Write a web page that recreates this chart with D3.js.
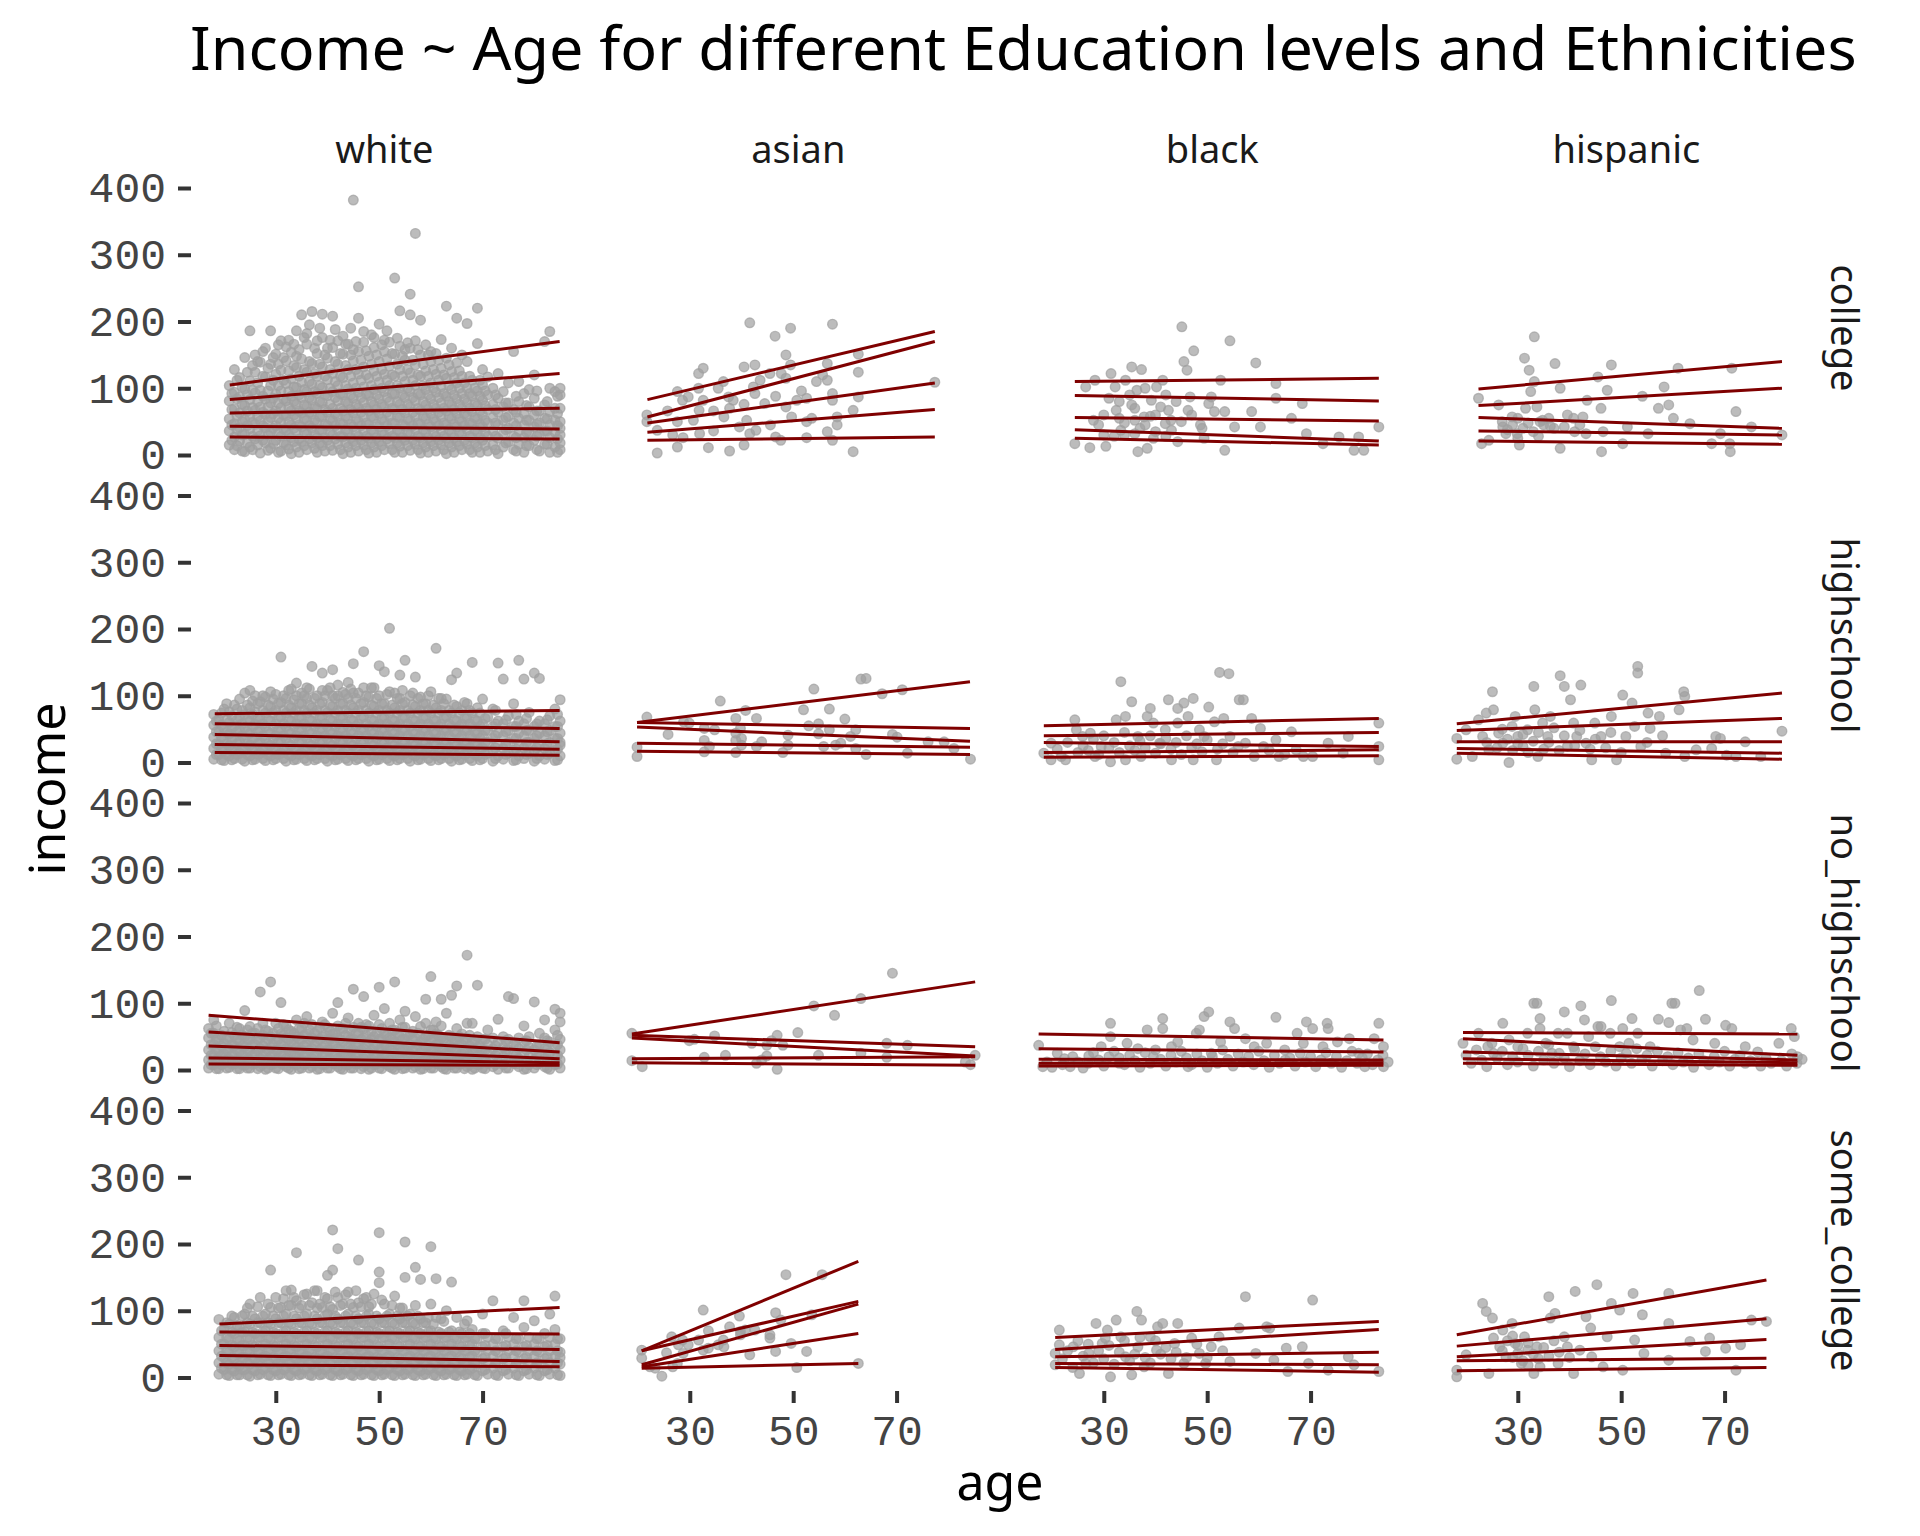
<!DOCTYPE html>
<html>
<head>
<meta charset="utf-8">
<script src="https://d3js.org/d3.v7.min.js"></script>
<style>
  body { margin: 0; background: #fff; }
  .tick text { font-family: "Liberation Mono", "DejaVu Sans Mono", monospace; font-size: 43px; fill: #444; }
  .tick line { stroke: #333; stroke-width: 4; }
</style>
</head>
<body>
<script>
var ethnicities = ["white", "asian", "black", "hispanic"];
var educations = ["college", "highschool", "no_highschool", "some_college"];
var yTickValues = [0, 100, 200, 300, 400];
var xTickValues = [30, 50, 70];

// white panels are dense, one row per age: [age, income, income, ...]
var whiteCollege = [
  [21,15,36,54,81,104],[22,8,27,47,69,94,128],[23,21,41,63,87,116],[24,5,31,53,74,99,146],
  [25,12,39,57,83,111,186],[26,24,46,67,93,124,150],[27,3,29,51,72,97,139],[28,18,41,61,84,117,160],
  [29,10,34,56,78,104,136,186],[30,22,44,66,91,121,151],[31,6,28,49,71,96,127,171],[32,15,37,59,81,107,141,162],
  [33,2,26,45,66,88,114,154],[34,12,35,55,76,101,131,186,148],[35,20,42,63,86,109,144,210],[36,8,31,52,73,95,124,166,182],
  [37,18,40,61,82,106,137,215],[38,4,26,48,69,92,118,152,171],[39,14,36,57,78,101,132,176,211],[40,22,44,64,89,113,145,160],
  [41,7,30,51,70,95,122,161,208],[42,16,38,58,81,104,136,171],[43,2,27,46,66,90,116,151,178],[44,12,34,54,77,99,128,166],
  [45,20,42,63,85,108,141,382,158],[46,6,28,50,71,94,121,155,252,205],[47,15,37,57,79,102,132,169,185],[48,3,25,45,66,89,115,148],
  [49,12,34,55,75,98,126,161,176],[50,20,42,62,84,109,140,196],[51,8,30,50,72,95,121,155,172],[52,17,38,58,80,104,133,169],
  [53,4,26,47,68,91,118,151,265],[54,13,35,56,76,100,128,216,163],[55,22,43,63,86,110,142,158],[56,7,30,51,72,95,123,160,241,210],
  [57,16,38,58,81,104,135,332,171],[58,3,26,46,67,90,118,150,202],[59,12,34,54,75,98,126,165],[60,20,42,62,84,108,140,155],
  [61,6,28,50,70,94,121,152],[62,15,37,57,78,102,130,173],[63,2,25,45,66,88,115,223,145],[64,12,33,54,75,98,125,160],
  [65,20,42,62,84,108,205,138],[66,8,30,50,70,92,118,150],[67,16,38,58,78,100,197,140],[68,4,26,46,65,88,112],
  [69,12,34,54,74,96,220,167],[70,22,42,60,82,105,128],[71,6,28,48,68,90,117],[72,15,36,56,76,100],
  [73,2,25,45,64,85,122],[74,12,32,52,72,95],[75,20,40,58,78,108],[76,8,28,48,68,155],
  [77,16,36,55,80,110],[78,4,26,45,62,92],[79,14,34,52,72,98],[80,22,42,60,85,120],
  [81,6,30,48,66],[82,16,36,55,75,170],[83,4,26,45,65,185,100],[84,12,34,52,95,70],[85,8,30,50,70,100,18,40,90],
  [21.5,22,45,68,92],[22.5,14,38,58,84,112],[23.5,6,30,50,76,102],[24.5,18,44,66,90,124],[25.5,8,28,49,71,97,134],
  [26.5,15,36,58,80,108,140],[27.5,22,44,64,88,118,155],[28.5,7,30,50,72,96,130],[29.5,17,40,62,85,112,146],[30.5,4,33,55,77,104,136,165],
  [31.5,18,39,60,84,112,146],[32.5,9,30,50,72,95,126,172],[33.5,20,40,60,80,102,134,166],[34.5,4,24,45,66,90,118,158],[35.5,14,34,54,75,98,128,176],
  [36.5,24,44,64,86,110,140,195],[37.5,10,30,52,72,95,122,160],[38.5,18,38,58,80,104,136,190],[39.5,6,26,46,68,90,118,150],[40.5,14,34,54,76,100,128,172],
  [41.5,24,44,62,86,110,140,188],[42.5,8,28,48,70,92,118,152],[43.5,18,38,58,80,104,134,166],[44.5,4,26,46,68,90,118,150,190],[45.5,14,34,54,76,100,128,170],
  [46.5,22,44,64,86,112,142],[47.5,8,28,48,70,92,120,156],[48.5,18,38,58,80,104,136,180],[49.5,4,26,46,68,90,118,150],[50.5,14,34,54,76,100,128,165],
  [51.5,24,44,64,86,112,144,186],[52.5,8,28,48,70,92,120,152],[53.5,18,38,58,80,104,136,175],[54.5,4,26,46,68,90,118,148],[55.5,14,34,54,76,100,128,168],
  [56.5,22,44,64,86,112,142],[57.5,8,28,48,70,92,120,158],[58.5,18,38,58,80,104,136],[59.5,4,26,46,68,90,118,150],[60.5,14,34,54,76,100,128],
  [61.5,22,44,64,86,112,142],[62.5,8,28,48,70,92,120],[63.5,18,38,58,80,104,135],[64.5,4,26,46,68,90,116],[65.5,14,34,54,76,100,126],
  [66.5,22,44,62,84,108],[67.5,8,28,48,70,92,118],[68.5,18,38,56,78,100],[69.5,4,26,46,66,88,112],[70.5,14,34,52,74,96],
  [72.5,8,28,48,68,90],[74.5,18,38,56,78],[76.5,6,26,44,64,88],[78.5,14,34,52,74],[80.5,8,28,46,66,96],[82.5,16,36,54,80],[84.5,4,24,44,62,88]
];
var whiteHighschool = [
  [18,5,21,38,56,72],[19,12,27,46,64],[20,3,18,35,51,80],[21,10,25,43,60,76],[22,6,20,38,55,86],
  [23,14,31,48,68,95],[24,2,18,35,52,72,104],[25,10,26,44,62,82,108],[26,5,20,38,57,76,100],[27,14,30,48,66,91],
  [28,3,18,36,54,74,98],[29,10,26,44,62,84,106],[30,6,22,40,58,78,102],[31,14,30,48,68,90,158],[32,2,18,36,54,74,96],
  [33,10,26,44,62,82,110],[34,5,21,40,58,78,119,100],[35,14,30,48,66,88,104],[36,3,18,36,54,74,96,112],[37,10,26,44,62,82,144],
  [38,6,22,40,58,78,100],[39,14,30,48,67,90,134,108],[40,2,18,36,54,75,108],[41,10,26,44,62,84,139,100],[42,5,21,40,58,78,100,116],
  [43,14,30,48,66,88,105],[44,3,18,36,54,74,96,120],[45,10,26,44,62,82,148,104],[46,6,22,40,58,78,104],[47,14,30,48,68,90,166,112],
  [48,2,18,36,54,74,98],[49,10,26,44,62,84,112],[50,5,21,40,58,78,145,100],[51,14,30,48,66,88,136],[52,3,18,36,54,74,201,106],
  [53,10,26,44,62,82,104],[54,6,22,40,58,78,131,96],[55,14,30,48,67,90,153],[56,2,18,36,54,74,100],[57,10,26,44,62,84,128],
  [58,5,21,40,58,78,98],[59,14,30,48,66,88],[60,3,18,36,54,74,106],[61,10,26,44,62,82,171],[62,6,22,40,58,78,96],
  [63,14,30,48,68,95],[64,2,18,36,54,74,124],[65,10,26,44,62,84,134],[66,5,21,40,58,78],[67,14,30,48,66,88],
  [68,3,18,36,54,74,150],[69,10,26,44,62,82],[70,6,22,40,58,95],[71,14,30,48,68],[72,2,18,36,54,80],
  [73,10,26,44,62,149],[74,5,21,40,58,125],[75,14,30,48,70],[76,3,18,36,54,88],[77,10,26,44,62,153],
  [78,6,22,40,58,125],[79,14,30,48,75],[80,2,18,36,54,134],[81,10,26,44,62,126],[82,5,21,40,58],
  [83,14,30,48,70],[84,3,18,36,54,80],[85,10,26,44,62,94,30],
  [18.5,12,28,46,62],[19.5,4,20,38,56,74],[20.5,12,28,45,64,88],[21.5,4,18,34,52,70],[22.5,12,28,46,64,80],
  [23.5,5,22,40,58,78],[24.5,12,28,46,64,86],[25.5,4,18,36,54,72,92],[26.5,12,28,46,66,88],[27.5,6,22,40,58,78,100],
  [28.5,12,28,46,64,86],[29.5,4,20,36,54,74,95],[30.5,12,30,48,66,88],[31.5,6,22,40,58,78,100],[32.5,12,28,46,64,86,108],
  [33.5,4,20,36,54,74,94],[34.5,12,30,48,66,88],[35.5,6,22,40,58,78,100],[36.5,12,28,46,64,86,110],[37.5,4,20,36,54,74,96],
  [38.5,12,30,48,66,88],[39.5,6,22,40,58,78,100],[40.5,12,28,46,64,86,112],[41.5,4,20,36,54,74,96],[42.5,12,30,48,66,88],
  [43.5,6,22,40,58,78,102],[44.5,12,28,46,64,86,110],[45.5,4,20,36,54,74,96],[46.5,12,30,48,66,88],[47.5,6,22,40,58,78,100],
  [48.5,12,28,46,64,86,112],[49.5,4,20,36,54,74,96],[50.5,12,30,48,66,88],[51.5,6,22,40,58,78,102],[52.5,12,28,46,64,86],
  [53.5,4,20,36,54,74,96],[54.5,12,30,48,66,88,108],[55.5,6,22,40,58,78],[56.5,12,28,46,64,86,104],[57.5,4,20,36,54,74,96],
  [58.5,12,30,48,66,88],[59.5,6,22,40,58,78,100],[60.5,12,28,46,64,86],[61.5,4,20,36,54,74,96],[62.5,12,30,48,66,88],
  [63.5,6,22,40,58,78],[64.5,12,28,46,64,86],[65.5,4,20,36,54,74],[66.5,12,30,48,66,90],[67.5,6,22,40,58,78],
  [68.5,12,28,46,64],[69.5,4,20,36,54,74],[70.5,12,30,48,66],[72.5,6,22,40,58,78],[74.5,12,28,46,64],
  [76.5,4,20,36,54,72],[78.5,12,30,48,66],[80.5,6,22,40,58],[82.5,12,28,46,64],[84.5,4,20,36,54,72]
];
var whiteNoHighschool = [
  [17,3,15,30,48,62],[18,8,22,38,55,75],[19,2,14,28,45],[20,10,24,40,58],[21,4,16,32,48,70],
  [22,9,22,36,52],[23,2,14,28,44,62],[24,7,20,35,50,89],[25,3,15,30,46,65],[26,10,24,38,55],
  [27,5,17,32,48,117],[28,1,12,26,42,60],[29,8,20,34,50,132],[30,3,15,30,46,70],[31,10,24,38,54,101],
  [32,5,17,32,48,66],[33,1,12,26,42,58],[34,8,20,34,50,75],[35,3,15,30,46,62],[36,10,24,38,54,80],
  [37,5,17,32,48,68],[38,1,12,26,42,58],[39,8,20,34,50,72],[40,3,15,30,46,64],[41,10,24,38,54,85],
  [42,5,17,32,48,101,66],[43,1,12,26,42,62],[44,8,20,34,50,78],[45,3,15,30,46,121,64],[46,10,24,38,54,70],
  [47,5,17,32,48,110,62],[48,1,12,26,42,66],[49,8,20,34,50,82],[50,3,15,30,46,124,68],[51,10,24,38,54,92],
  [52,5,17,32,48,70],[53,1,12,26,42,132,60],[54,8,20,34,50,75],[55,3,15,30,46,88,64],[56,10,24,38,54],
  [57,5,17,32,48,80],[58,1,12,26,42,65],[59,8,20,34,50,106,70],[60,3,15,30,46,140,60],[61,10,24,38,54,72],
  [62,5,17,32,48,106,66],[63,1,12,26,42,85],[64,8,20,34,50,112],[65,3,15,30,46,126,62],[66,10,24,38,54],
  [67,5,17,32,48,172,70],[68,1,12,26,42,70],[69,8,20,34,50,127],[70,3,15,30,46],[71,10,24,38,60],
  [72,5,17,32,48],[73,1,12,26,42,76],[74,8,20,34,50],[75,3,15,30,46,110],[76,10,24,38,107],
  [77,5,17,32,48],[78,1,12,26,42,66],[79,8,20,34,50],[80,3,15,30,102],[81,10,24,38,55],
  [82,5,17,32,48,75],[83,1,12,26,42],[84,8,20,34,91,60],[85,3,15,30,46,72,85],
  [17.5,8,22,38,55],[18.5,2,15,30,46,66],[19.5,8,22,36,52],[20.5,3,16,30,46],[21.5,9,22,38,56],
  [22.5,2,15,30,46,64],[23.5,8,22,36,52],[24.5,3,16,30,46,60],[25.5,9,22,38,55],[26.5,2,15,30,46,62],
  [27.5,8,22,36,52,70],[28.5,3,16,30,46,58],[29.5,9,22,38,55],[30.5,2,15,30,46,62],[31.5,8,22,36,52,68],
  [32.5,3,16,30,46,60],[33.5,9,22,38,55],[34.5,2,15,30,46,62],[35.5,8,22,36,52,70],[36.5,3,16,30,46,60],
  [37.5,9,22,38,55],[38.5,2,15,30,46,64],[39.5,8,22,36,52,68],[40.5,3,16,30,46,58],[41.5,9,22,38,55],
  [42.5,2,15,30,46,62],[43.5,8,22,36,52,70],[44.5,3,16,30,46,60],[45.5,9,22,38,55],[46.5,2,15,30,46,64],
  [47.5,8,22,36,52,68],[48.5,3,16,30,46,58],[49.5,9,22,38,55],[50.5,2,15,30,46,62],[51.5,8,22,36,52],
  [52.5,3,16,30,46,60],[53.5,9,22,38,55],[54.5,2,15,30,46,64],[55.5,8,22,36,52],[56.5,3,16,30,46,58],
  [57.5,9,22,38,55],[58.5,2,15,30,46],[59.5,8,22,36,52],[60.5,3,16,30,46,60],[61.5,9,22,38,52],
  [62.5,2,15,30,46],[63.5,8,22,36,52],[64.5,3,16,30,46],[65.5,9,22,38,50],[66.5,2,15,30,46],
  [67.5,8,22,36,52],[68.5,3,16,30,44],[69.5,9,22,36],[70.5,2,15,30,46],[72.5,8,22,36],
  [74.5,3,16,30,44],[76.5,9,22,36],[78.5,2,15,30,44],[80.5,8,22,36],[82.5,3,16,30,44],[84.5,9,22,38,52]
];
var whiteSomeCollege = [
  [19,5,22,40,60,87],[20,12,30,50,72],[21,3,20,38,58,80],[22,10,28,46,66,90],[23,4,18,36,55,75],
  [24,12,30,48,68,95],[25,2,20,38,58,80,110],[26,10,28,46,66,88],[27,5,22,40,60,82,120],[28,14,32,50,70,95],
  [29,3,20,38,58,80,161,105],[30,10,28,46,66,88,120],[31,5,22,40,60,82,105],[32,14,32,50,70,95,130],[33,3,20,38,58,80,131,108],
  [34,10,28,46,66,88,187,115],[35,5,22,40,60,82,108],[36,14,32,50,70,95,125],[37,3,20,38,58,80,112],[38,10,28,46,66,88,130,104],
  [39,5,22,40,60,82,105],[40,14,32,50,70,95,153,118],[41,3,20,38,58,80,221,161,102],[42,10,28,46,66,88,193,120],[43,5,22,40,60,82,110],
  [44,14,32,50,70,95,128],[45,3,20,38,58,80,105],[46,10,28,46,66,88,176,112],[47,5,22,40,60,82,118],[48,14,32,50,70,95,106],
  [49,3,20,38,58,80,125],[50,10,28,46,66,88,217,158,142],[51,5,22,40,60,82,110],[52,14,32,50,70,95],[53,3,20,38,58,80,122],
  [54,10,28,46,66,88,104],[55,5,22,40,60,82,203,150],[56,14,32,50,70,95],[57,3,20,38,58,80,165,108],[58,10,28,46,66,88,147],
  [59,5,22,40,60,82],[60,14,32,50,70,196,110],[61,3,20,38,58,148,90],[62,10,28,46,66,88],[63,5,22,40,60,100],
  [64,14,32,50,70,143],[65,3,20,38,58,90],[66,10,28,46,66],[67,5,22,40,60,85],[68,14,32,50,72],
  [69,3,20,38,58],[70,10,28,46,66,95],[71,5,22,40,60],[72,14,32,50,115],[73,3,20,38,58],
  [74,10,28,46,70],[75,5,22,40,60],[76,14,32,50,90],[77,3,20,38,58],[78,10,28,46,115,75],
  [79,5,22,40,60],[80,14,32,50,85],[81,3,20,38,58],[82,10,28,46,66],[83,5,22,40,60,95],
  [84,14,32,50,122,72],[85,3,20,38,58,30],
  [19.5,14,32,50,70],[20.5,4,22,40,60,82],[21.5,12,30,48,68,92],[22.5,4,20,38,58,78],[23.5,12,30,48,68,92],
  [24.5,4,22,40,60,82,104],[25.5,12,30,48,68,92],[26.5,4,22,40,60,82,106],[27.5,12,30,48,68,92],[28.5,4,22,40,60,82,110],
  [29.5,12,30,48,68,92],[30.5,4,22,40,60,82,104],[31.5,12,30,48,68,92,118],[32.5,4,22,40,60,82,108],[33.5,12,30,48,68,92,120],
  [34.5,4,22,40,60,82,104],[35.5,12,30,48,68,92,124],[36.5,4,22,40,60,82,108],[37.5,12,30,48,68,92,130],[38.5,4,22,40,60,82,110],
  [39.5,12,30,48,68,92,120],[40.5,4,22,40,60,82,106],[41.5,12,30,48,68,92,128],[42.5,4,22,40,60,82,108],[43.5,12,30,48,68,92,124],
  [44.5,4,22,40,60,82,110],[45.5,12,30,48,68,92,130],[46.5,4,22,40,60,82,106],[47.5,12,30,48,68,92,120],[48.5,4,22,40,60,82,110],
  [49.5,12,30,48,68,92],[50.5,4,22,40,60,82,116],[51.5,12,30,48,68,92],[52.5,4,22,40,60,82,108],[53.5,12,30,48,68,92],
  [54.5,4,22,40,60,82,104],[55.5,12,30,48,68,92],[56.5,4,22,40,60,82],[57.5,12,30,48,68,92],[58.5,4,22,40,60,82],
  [59.5,12,30,48,68,90],[60.5,4,22,40,60,80],[61.5,12,30,48,68],[62.5,4,22,40,60,84],[63.5,12,30,48,68],
  [64.5,4,22,40,60],[65.5,12,30,48,68],[66.5,4,22,40,60,80],[67.5,12,30,48,66],[68.5,4,22,40,58],
  [70.5,12,30,48,66],[72.5,4,22,40,58],[74.5,12,30,48,66],[76.5,4,22,40,58],[78.5,12,30,48],
  [80.5,4,22,40,58],[82.5,12,30,48],[84.5,4,22,40,58]
];

// the other panels: [age, income]
var asianCollege = [[21.7,60],[21.7,50],[23.7,37],[23.7,3],[25.7,66],[26.7,30],[27.6,95],[27.6,50],[27.6,12],[28.6,82],[28.7,26],[29.7,87],[30.7,52],[31.7,122],[31.7,100],[31.8,67],[31.9,32],[32.6,130],[32.6,82],[33.6,11],[34.6,66],[34.6,36],[35.5,100],[36.5,110],[36.6,57],[37.5,87],[37.7,70],[37.7,6],[38.4,82],[39.6,42],[40.5,132],[40.5,76],[40.5,15],[41.0,52],[41.6,198],[41.6,32],[42.3,102],[42.6,135],[42.6,92],[42.8,37],[43.6,112],[44.5,77],[45.5,122],[45.6,45],[46.5,178],[46.6,88],[46.6,27],[47.6,22],[47.7,122],[48.6,150],[48.6,115],[48.6,72],[49.5,190],[49.5,135],[49.7,57],[50.7,82],[51.6,96],[52.6,85],[52.6,50],[52.6,26],[53.6,55],[54.5,110],[55.7,120],[56.6,137],[56.6,112],[56.6,35],[57.6,196],[57.6,92],[57.6,82],[57.6,22],[58.5,57],[58.5,45],[61.6,67],[61.6,5],[62.6,151],[62.6,124],[62.6,87],[77.4,109]];
var asianHighschool = [[21.7,68],[19.8,23],[19.8,9],[25.8,42],[28.8,61],[29.9,59],[32.8,51],[32.8,33],[32.8,16],[33.8,24],[34.8,49],[35.9,92],[38.9,66],[38.9,44],[38.9,33],[38.9,15],[39.8,51],[40.0,36],[40.0,26],[40.8,78],[42.9,66],[42.9,24],[43.9,31],[48.0,15],[49.0,41],[49.0,26],[52.0,79],[53.0,55],[54.0,110],[54.9,58],[54.9,43],[55.9,24],[57.0,80],[57.0,49],[58.2,26],[59.2,29],[60.0,65],[61.1,39],[62.1,49],[62.1,21],[63.1,125],[64.1,126],[64.1,12],[67.2,103],[69.2,42],[70.1,38],[71.1,109],[72.1,14],[76.1,31],[79.2,31],[81.1,21],[84.3,5]];
var asianNoHighschool = [[18.8,55],[18.8,14],[20.8,5],[29.9,44],[30.9,46],[32.8,19],[34.8,51],[36.9,22],[42.0,40],[42.9,10],[43.9,15],[44.9,37],[44.9,21],[45.8,44],[46.9,52],[46.9,1],[48.0,37],[50.9,56],[54.0,96],[54.9,22],[58.0,82],[63.1,107],[63.1,25],[68.1,40],[68.1,19],[69.2,145],[72.1,37],[83.3,12],[84.3,8],[85.2,22]];
var asianSomeCollege = [[20.7,41],[20.7,29],[22.3,16],[23.3,14],[24.6,2],[25.5,37],[26.5,61],[26.7,16],[27.6,21],[27.8,49],[28.6,56],[28.7,36],[29.7,49],[31.7,56],[32.6,101],[32.6,41],[33.6,70],[33.6,44],[35.5,49],[36.5,56],[36.6,46],[37.7,76],[39.6,92],[39.8,69],[39.8,64],[40.7,71],[41.6,34],[42.6,71],[45.5,64],[45.5,59],[46.6,97],[46.6,39],[47.6,86],[48.6,154],[49.6,51],[50.7,15],[52.6,39],[53.6,94],[55.6,154],[62.6,21]];
var blackCollege = [[24.4,17],[26.5,102],[27.3,11],[28.3,112],[30.4,13],[31.4,122],[32.2,102],[32.4,67],[33.3,37],[34.2,112],[35.4,132],[35.4,75],[36.0,32],[36.4,97],[36.6,5],[37.3,128],[37.8,57],[38.4,10],[39.2,82],[39.6,25],[40.2,102],[41.4,112],[41.9,47],[42.5,67],[43.1,37],[44.3,20],[45.1,192],[45.5,140],[46.1,127],[46.3,67],[46.7,87],[47.4,156],[48.7,45],[49.4,25],[50.3,77],[50.8,87],[51.4,65],[52.6,112],[53.4,65],[53.4,7],[54.4,171],[55.3,42],[58.6,65],[59.4,138],[60.3,42],[63.3,107],[63.3,85],[66.3,55],[68.4,77],[69.2,32],[72.4,17],[75.5,27],[78.4,7],[79.3,27],[80.3,7],[83.2,42],
  [29,45],[30,60],[31,85],[32,28],[33,55],[34,48],[35,90],[36,70],[37,40],[38,100],[39,58],[40,35],[41,72],[42,90],[43,52],[44,80],[36,52],[34,30],[28,52],[30,30],[33,80],[38,45],[40,60],[42,28],[47,60],[49,40],[45,50]];
var blackHighschool = [[18.4,14],[19.8,4],[19.8,29],[21.8,9],[22.6,4],[24.4,64],[24.7,49],[25.9,39],[27.4,44],[28.3,9],[29.5,24],[31.3,1],[32.4,64],[33.3,121],[34.2,69],[34.2,4],[35.4,91],[36.6,39],[37.2,9],[38.4,69],[39.0,81],[39.6,59],[40.8,29],[41.9,49],[42.5,94],[43.1,4],[44.3,81],[44.3,59],[45.5,89],[46.3,69],[47.3,96],[47.3,4],[48.5,49],[49.4,39],[50.3,83],[51.4,61],[51.8,4],[52.4,135],[53.2,66],[54.2,133],[54.4,39],[56.2,94],[57.0,94],[57.4,29],[58.6,66],[59.1,9],[60.3,51],[60.9,24],[63.3,34],[63.9,9],[66.3,46],[67.2,19],[68.6,9],[70.4,9],[73.4,29],[76.3,14],[77.3,39],[83.2,59],[83.2,24],[83.2,4],
  [21,20],[23,30],[25,15],[26,25],[27,18],[28,35],[29,12],[30,40],[31,22],[32,30],[33,15],[34,45],[35,25],[36,18],[37,32],[38,22],[39,40],[40,14],[41,28],[42,36],[43,20],[44,30],[45,12],[46,40],[47,22],[48,28],[49,16],[50,34],[52,20],[53,28],[55,15],[56,24],[62,18],[65,12]];
var blackNoHighschool = [[17.4,37],[18.2,5],[20.0,4],[22.4,17],[23.5,5],[27.1,21],[29.5,35],[31.3,70],[31.3,50],[33.0,10],[34.5,40],[36.6,32],[38.4,60],[39.6,20],[41.4,77],[41.4,62],[43.1,35],[44.3,42],[46.3,5],[47.9,55],[48.5,60],[49.4,80],[50.3,87],[50.8,25],[52.6,42],[54.4,72],[55.3,62],[57.4,47],[59.1,35],[61.5,40],[63.3,79],[65.1,15],[67.4,55],[68.6,40],[69.2,72],[70.4,62],[72.4,35],[73.2,70],[73.4,62],[75.2,42],[77.5,47],[79.3,25],[80.5,5],[82.3,47],[83.2,70],[84.1,35],[84.1,5],
  [19,12],[21,25],[22,8],[24,20],[25,12],[26,3],[27,10],[28,26],[29,15],[30,6],[31,20],[32,28],[33,18],[34,8],[35,22],[36,14],[37,4],[38,26],[39,10],[40,30],[41,16],[42,6],[43,22],[44,12],[45,28],[46,18],[47,8],[48,24],[49,14],[50,4],[51,20],[52,10],[53,30],[54,16],[55,6],[56,24],[57,12],[58,20],[59,8],[60,28],[61,14],[62,4],[63,22],[64,10],[65,30],[66,18],[67,6],[68,25],[69,12],[70,20],[71,5],[72,15],[73,26],[74,10],[75,20],[76,4],[77,14],[78,28],[79,10],[80,18],[81,24],[82,8],[83,15],[84,22],[85,12]];
var blackSomeCollege = [[20.6,36],[20.6,19],[21.4,71],[21.4,49],[24.1,46],[25.3,6],[26.5,21],[27.1,36],[28.5,81],[29.7,51],[30.3,59],[30.7,71],[31.3,1],[32.4,86],[33.3,61],[34.2,31],[35.4,4],[36.4,99],[36.6,46],[37.3,86],[37.8,16],[39.0,61],[40.2,41],[40.4,76],[41.4,81],[42.5,6],[43.7,51],[44.3,81],[45.5,21],[47.0,59],[48.5,36],[49.7,21],[50.8,46],[52.3,61],[54.4,24],[56.2,74],[57.4,121],[59.4,36],[61.5,76],[62.1,74],[62.9,26],[65.3,44],[65.6,9],[68.4,46],[69.6,21],[70.4,116],[73.4,11],[77.3,31],[78.4,19],[83.2,9],
  [22,28],[23,40],[24,15],[25,55],[26,32],[27,50],[28,22],[29,40],[30,28],[31,48],[32,20],[33,38],[34,55],[35,25],[36,35],[37,60],[38,30],[39,22],[40,55],[41,35],[42,45],[43,28],[44,38],[46,30],[48,50],[50,30],[53,40]];
var hispanicCollege = [[22.4,85],[23.0,17],[24.4,22],[26.3,75],[27.1,42],[27.7,32],[28.9,57],[29.9,32],[30.3,15],[31.3,145],[31.5,70],[32.2,127],[32.5,95],[33.2,110],[33.2,177],[33.7,72],[34.3,50],[34.8,52],[36.3,43],[37.2,137],[38.2,100],[38.2,10],[39.6,60],[40.8,55],[42.0,45],[42.6,57],[43.2,32],[43.4,82],[45.5,117],[46.1,70],[46.2,5],[46.5,35],[47.3,97],[48.1,135],[50.3,17],[51.2,42],[54.1,88],[55.2,32],[57.2,70],[58.3,102],[59.2,75],[60.1,55],[61.0,130],[63.3,47],[67.5,17],[69.2,32],[71.0,17],[71.1,5],[71.4,130],[72.2,65],[75.2,42],[81.1,30],
  [27,50],[28,38],[29,45],[30,55],[31,40],[32,48],[33,35],[35,45],[36,55],[34,28],[30,25],[37,40],[39,42],[41,35]];
var hispanicHighschool = [[18.2,36],[18.2,5],[20.0,49],[21.2,9],[22.4,64],[23.2,39],[23.9,74],[24.4,19],[25.1,106],[25.3,79],[26.3,44],[27.1,29],[28.3,0],[28.9,54],[29.5,69],[30.0,39],[31.0,24],[31.9,49],[33.1,114],[33.3,79],[33.9,9],[34.8,59],[35.8,39],[36.3,69],[38.2,130],[39.0,114],[39.6,24],[40.2,94],[40.8,59],[41.4,39],[42.2,116],[43.2,29],[44.3,4],[44.9,59],[46.1,39],[48.1,69],[49.1,4],[50.3,101],[50.9,39],[52.1,89],[52.6,54],[53.2,144],[53.2,134],[53.8,24],[55.2,74],[55.6,51],[57.4,69],[58.6,14],[61.2,79],[62.1,106],[62.3,99],[62.3,9],[64.5,19],[67.5,21],[68.3,39],[69.2,36],[70.4,11],[72.2,9],[74.0,31],[77.0,9],[81.1,47],
  [24,30],[26,22],[27,50],[28,35],[29,18],[30,28],[31,42],[32,15],[33,32],[34,45],[35,20],[36,30],[37,52],[38,18],[39,40],[41,25],[42,48],[44,20],[45,35],[47,22],[48,45],[50,15],[55,30],[58,40]];
var hispanicNoHighschool = [[19.4,40],[22.4,55],[24.2,35],[25.3,25],[27.1,70],[28.3,45],[30.0,35],[31.9,55],[33.1,100],[33.7,100],[34.3,77],[34.3,62],[35.4,40],[36.6,25],[37.8,55],[39.0,87],[39.6,55],[40.8,35],[42.2,96],[42.9,75],[43.7,50],[45.5,65],[46.1,65],[47.9,55],[48.1,104],[49.7,35],[50.3,62],[51.5,40],[52.1,77],[53.2,55],[55.6,35],[57.2,76],[59.2,71],[59.8,100],[60.4,100],[61.5,60],[62.7,62],[63.9,45],[65.1,119],[66.3,76],[68.1,40],[70.2,67],[71.4,62],[74.0,35],[76.4,27],[80.5,40],[82.9,62],[83.5,50],[84.1,20],
  [20,22],[21,10],[22,30],[23,15],[24,5],[25,40],[26,18],[27,28],[28,8],[29,20],[30,12],[31,32],[32,22],[33,6],[34,28],[35,15],[36,38],[37,10],[38,25],[39,18],[40,5],[41,30],[42,14],[43,24],[44,8],[45,35],[46,20],[47,12],[48,28],[49,6],[50,18],[51,25],[52,10],[53,32],[54,15],[55,22],[56,6],[57,28],[58,14],[59,20],[60,8],[61,26],[62,12],[63,18],[64,4],[65,24],[66,14],[67,8],[68,20],[69,12],[70,28],[71,6],[72,16],[73,22],[74,10],[75,14],[77,6],[78,18],[79,10],[81,14],[82,6],[83,24],[84,10],[85,16]];
var hispanicSomeCollege = [[18.2,11],[18.2,1],[20.0,34],[23.2,111],[23.9,99],[24.4,6],[25.1,89],[25.3,59],[26.5,46],[27.1,71],[27.7,31],[28.9,81],[29.5,51],[30.0,36],[30.7,21],[31.3,61],[31.9,41],[33.1,6],[33.7,46],[34.3,16],[36.0,121],[36.3,89],[37.2,96],[37.8,21],[39.0,61],[39.6,46],[40.8,6],[41.1,129],[42.0,41],[43.2,91],[44.1,74],[44.3,31],[45.3,139],[46.5,16],[47.3,61],[48.1,111],[49.7,101],[50.3,11],[52.3,126],[52.6,56],[54.1,94],[54.4,36],[59.2,126],[59.2,81],[59.2,26],[63.3,54],[66.3,39],[67.1,59],[70.2,44],[72.2,11],[73.1,49],[75.2,86],[78.1,84],
  [27,40],[28,55],[29,30],[30,48],[31,25],[32,52],[33,35],[34,28],[35,45],[36,32],[37,55],[38,38],[40,30],[29,62],[32,18]];

// quantile fits, per panel: [first age, last age, [[start, end] income for each quantile]]
var linesCollege = {
  white:    [21.1, 84.9, [[105,170],[83,122],[63,70],[43,39],[27,24]]],
  asian:    [21.8, 77.4, [[83,185],[57,170],[48,108],[34,68],[22,27]]],
  black:    [24.4, 83.2, [[110,115],[89,81],[56,51],[38,21],[25,15]]],
  hispanic: [22.4, 81.1, [[99,140],[74,100],[56,40],[36,30],[21,16]]]
};
var linesHighschool = {
  white:    [18.2, 84.9, [[73,78],[58,51],[42,31],[27,20],[15,11]]],
  asian:    [19.8, 84.2, [[60,121],[60,51],[53,32],[29,23],[17,12]]],
  black:    [18.4, 83.2, [[55,66],[40,45],[30,24],[15,19],[8,10]]],
  hispanic: [18.2, 81.1, [[58,104],[48,66],[31,31],[21,14],[14,5]]]
};
var linesNoHighschool = {
  white:    [17.0, 84.9, [[82,41],[57,27],[36,17],[18,11],[9,7]]],
  asian:    [18.8, 85.2, [[54,132],[52,35],[48,21],[17,20],[11,7]]],
  black:    [17.4, 84.1, [[54,45],[32,27],[16,15],[10,11],[6,7]]],
  hispanic: [19.4, 84.1, [[56,54],[47,22],[27,15],[17,11],[10,7]]]
};
var linesSomeCollege = {
  white:    [19.1, 84.9, [[80,105],[68,65],[48,42],[33,24],[19,16]]],
  asian:    [20.7, 62.6, [[40,174],[40,114],[19,110],[16,66],[14,21]]],
  black:    [20.6, 83.2, [[60,84],[42,72],[31,38],[21,19],[15,8]]],
  hispanic: [18.2, 78.1, [[64,146],[47,88],[31,57],[25,29],[10,15]]]
};

function byAge(rows) {
  return rows.flatMap(function (r) { return r.slice(1).map(function (v) { return [r[0], v]; }); });
}

var points = {
  college:       [byAge(whiteCollege), asianCollege, blackCollege, hispanicCollege],
  highschool:    [byAge(whiteHighschool), asianHighschool, blackHighschool, hispanicHighschool],
  no_highschool: [byAge(whiteNoHighschool), asianNoHighschool, blackNoHighschool, hispanicNoHighschool],
  some_college:  [byAge(whiteSomeCollege), asianSomeCollege, blackSomeCollege, hispanicSomeCollege]
};
var fits = { college: linesCollege, highschool: linesHighschool, no_highschool: linesNoHighschool, some_college: linesSomeCollege };

// layout
var width = 1920, height = 1536;
var panelLeft = 191, colStep = 414, panelW = 386.7;
var zeroY = 455, rowStep = 307.5, pxPerUnit = 0.6675;
var sans = "'Noto Sans', 'Open Sans', sans-serif";

var svg = d3.select("body").append("svg")
    .attr("width", width)
    .attr("height", height);
svg.append("rect").attr("width", width).attr("height", height).attr("fill", "#fff");

svg.append("text")
    .attr("x", 190).attr("y", 70)
    .style("font-family", sans).style("font-size", "61px").style("fill", "#000")
    .text("Income ~ Age for different Education levels and Ethnicities");

var line = d3.line();

educations.forEach(function (edu, r) {
  var y0 = zeroY + r * rowStep;
  var y = d3.scaleLinear().domain([0, 400]).range([y0, y0 - 400 * pxPerUnit]);

  ethnicities.forEach(function (eth, c) {
    var left = panelLeft + c * colStep;
    var x = d3.scaleLinear().domain([13.6, 88.4]).range([left, left + panelW]);
    var g = svg.append("g");

    g.selectAll("circle")
      .data(points[edu][c])
      .join("circle")
        .attr("cx", function (d) { return x(d[0]); })
        .attr("cy", function (d) { return y(d[1]); })
        .attr("r", 4.8)
        .style("fill", "#a0a0a0").style("fill-opacity", 0.7)
        .style("stroke", "#a0a0a0").style("stroke-opacity", 0.7).style("stroke-width", 1.4);

    var f = fits[edu][eth];
    g.selectAll("path.fit")
      .data(f[2])
      .join("path")
        .attr("class", "fit")
        .attr("d", function (q) { return line([[x(f[0]), y(q[0])], [x(f[1]), y(q[1])]]); })
        .style("fill", "none").style("stroke", "#7f0000").style("stroke-width", 3);

    if (r === 3) {
      var ax = svg.append("g")
          .attr("transform", "translate(0," + (y0 + 13.5) + ")")
          .call(d3.axisBottom(x).tickValues(xTickValues).tickSize(12).tickPadding(11).tickSizeOuter(0));
      ax.select(".domain").remove();
    }
    if (r === 0) {
      svg.append("text")
          .attr("x", left + panelW / 2).attr("y", 163)
          .attr("text-anchor", "middle")
          .style("font-family", sans).style("font-size", "38px").style("fill", "#1a1a1a")
          .text(eth);
    }
  });

  var ay = svg.append("g")
      .attr("transform", "translate(" + panelLeft + ",0)")
      .call(d3.axisLeft(y).tickValues(yTickValues).tickSize(13).tickPadding(12).tickSizeOuter(0));
  ay.select(".domain").remove();

  svg.append("text")
      .attr("transform", "translate(1846," + (y0 - 127) + ") rotate(90)")
      .attr("text-anchor", "middle").attr("dominant-baseline", "central")
      .style("font-family", sans).style("font-size", "38px").style("fill", "#1a1a1a")
      .text(edu);
});

svg.append("text")
    .attr("transform", "translate(65,789) rotate(-90)")
    .attr("text-anchor", "middle")
    .style("font-family", sans).style("font-size", "50px").style("fill", "#000")
    .text("income");

svg.append("text")
    .attr("x", 1000).attr("y", 1500)
    .attr("text-anchor", "middle")
    .style("font-family", sans).style("font-size", "50px").style("fill", "#000")
    .text("age");
</script>
</body>
</html>
